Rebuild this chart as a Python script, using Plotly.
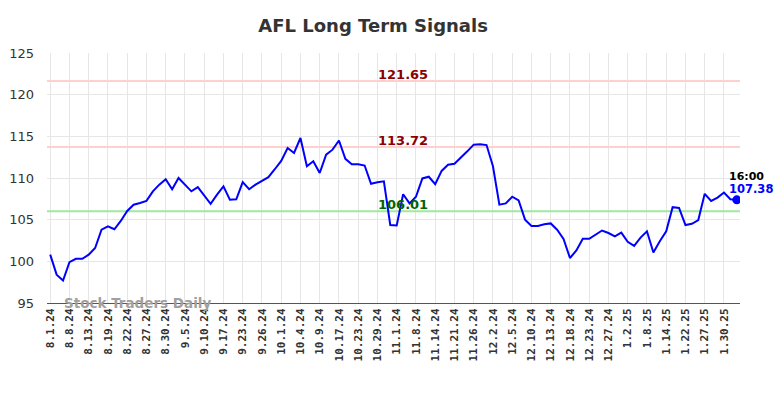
import plotly.graph_objects as go

tick_labels = ["8.1.24", "8.8.24", "8.13.24", "8.19.24", "8.22.24", "8.27.24", "8.30.24",
               "9.5.24", "9.10.24", "9.17.24", "9.23.24", "9.26.24", "10.1.24", "10.4.24",
               "10.9.24", "10.17.24", "10.23.24", "10.29.24", "11.1.24", "11.8.24",
               "11.14.24", "11.21.24", "11.26.24", "12.2.24", "12.5.24", "12.10.24",
               "12.13.24", "12.18.24", "12.23.24", "12.27.24", "1.2.25", "1.8.25",
               "1.14.25", "1.22.25", "1.27.25", "1.30.25"]

prices = [100.8, 98.4, 97.7, 99.9, 100.3, 100.3, 100.8, 101.6, 103.8, 104.2,
          103.85, 104.85, 106.05, 106.8, 107.0, 107.25, 108.4, 109.2, 109.85, 108.65,
          110.0, 109.2, 108.4, 108.9, 107.9, 106.9, 108.0, 109.0, 107.4, 107.45,
          109.5, 108.65, 109.2, 109.6, 110.1, 111.05, 112.05, 113.6, 113.0, 114.8,
          111.4, 112.0, 110.6, 112.8, 113.4, 114.5, 112.3, 111.65, 111.65, 111.5,
          109.3, 109.5, 109.6, 104.35, 104.3, 108.05, 106.95, 107.75, 109.95, 110.15,
          109.25, 110.85, 111.6, 111.7, 112.4, 113.2, 114.0, 114.05, 113.95, 111.4,
          106.8, 106.95, 107.75, 107.3, 105.0, 104.25, 104.25, 104.45, 104.55, 103.8,
          102.7, 100.4, 101.3, 102.7, 102.7, 103.25, 103.7, 103.4, 103.0, 103.45,
          102.35, 101.85, 102.85, 103.6, 101.05, 102.4, 103.6, 106.5, 106.4, 104.35,
          104.5, 104.95, 108.1, 107.25, 107.65, 108.25, 107.45, 107.38]

resistance_high = 121.65
resistance_low = 113.72
support = 106.01
last_time = "16:00"

x = list(range(len(prices)))
tick_pos = [i * 3 for i in range(len(tick_labels))]

fig = go.Figure()

for lvl, col in [(resistance_high, "#ffd0d0"), (resistance_low, "#ffd0d0"), (support, "#a0e8a0")]:
    fig.add_trace(go.Scatter(x=[-0.5, len(prices) - 0.5], y=[lvl, lvl], mode="lines",
                             line=dict(color=col, width=2), hoverinfo="skip", showlegend=False))

fig.add_trace(go.Scatter(x=x, y=prices, mode="lines", line=dict(color="#0000ff", width=2),
                         showlegend=False))
fig.add_trace(go.Scatter(x=[x[-1]], y=[prices[-1]], mode="markers",
                         marker=dict(color="#0000ff", size=9), showlegend=False))

mid = 55
lab_font = dict(family="DejaVu Sans, sans-serif", size=13)
for lvl, col in [(resistance_high, "#8b0000"), (resistance_low, "#8b0000"), (support, "#006400")]:
    fig.add_annotation(x=mid, y=lvl, text="<b>%.2f</b>" % lvl, showarrow=False,
                       yanchor="bottom", yshift=-3, font=dict(color=col, **lab_font))

fig.add_annotation(x=x[-1], y=prices[-1], text="<b>%s</b>" % last_time, showarrow=False,
                   xanchor="left", yanchor="bottom", xshift=-10, yshift=15,
                   font=dict(color="#000000", family="DejaVu Sans, sans-serif", size=11))
fig.add_annotation(x=x[-1], y=prices[-1], text="<b>%.2f</b>" % prices[-1], showarrow=False,
                   xanchor="left", yanchor="bottom", xshift=-10, yshift=2,
                   font=dict(color="#0000ff", family="DejaVu Sans, sans-serif", size=11.5))

fig.add_annotation(xref="paper", yref="paper", x=0.022, y=0.0, text="<b>Stock Traders Daily</b>",
                   showarrow=False, xanchor="left", yanchor="middle",
                   font=dict(color="#a0a0a0", family="DejaVu Sans, sans-serif", size=13.5))

fig.update_layout(
    width=776, height=390,
    margin=dict(l=39, r=44, t=45, b=95, autoexpand=False),
    paper_bgcolor="white", plot_bgcolor="white",
    title=dict(text="<b>AFL Long Term Signals</b>", x=0.4705, xanchor="center", y=0.954, yanchor="middle",
               font=dict(family="DejaVu Sans, sans-serif", size=18, color="#333333")),
    xaxis=dict(range=[-0.5, len(prices) - 0.5], tickmode="array", tickvals=tick_pos,
               ticktext=["<b>%s</b>" % t for t in tick_labels], tickangle=-90,
               tickfont=dict(family="DejaVu Sans Mono, monospace", size=11, color="#333333"),
               showgrid=True, gridcolor="#e6e6e6", gridwidth=1, automargin=False,
               showline=True, linecolor="#555555", linewidth=1, zeroline=False, ticks=""),
    yaxis=dict(range=[95, 125], tickvals=[95, 100, 105, 110, 115, 120, 125],
               tickfont=dict(family="DejaVu Sans, sans-serif", size=13, color="#333333"),
               ticklabelstandoff=12, automargin=False,
               showgrid=True, gridcolor="#e6e6e6", gridwidth=1, zeroline=False, ticks=""),
)

fig.write_html("out.html")
